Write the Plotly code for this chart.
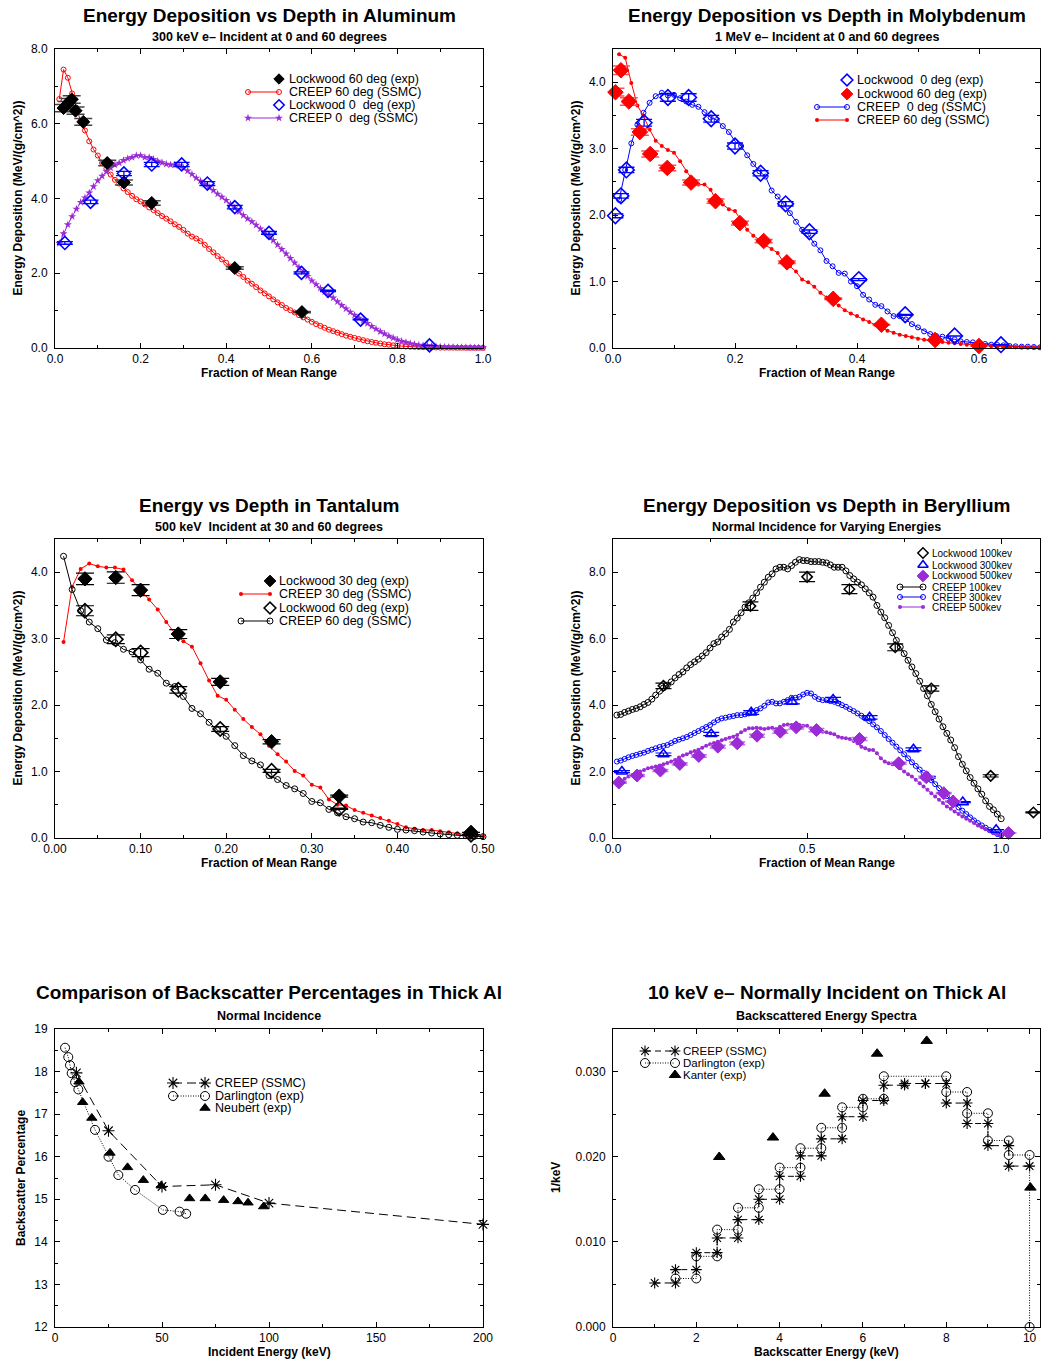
import plotly.graph_objects as go

W, H = 1041, 1359
FONT = "Liberation Sans, Arial, Helvetica, sans-serif"

# ---------------- data ----------------
DEPTH = [0.01, 0.02, 0.03, 0.04, 0.05, 0.06, 0.07, 0.08, 0.09, 0.10,
         0.11, 0.12, 0.13, 0.14, 0.15, 0.16, 0.17, 0.18, 0.19, 0.20,
         0.21, 0.22, 0.23, 0.24, 0.25, 0.26, 0.27, 0.28, 0.29, 0.30,
         0.31, 0.32, 0.33, 0.34, 0.35, 0.36, 0.37, 0.38, 0.39, 0.40,
         0.41, 0.42, 0.43, 0.44, 0.45, 0.46, 0.47, 0.48, 0.49, 0.50,
         0.51, 0.52, 0.53, 0.54, 0.55, 0.56, 0.57, 0.58, 0.59, 0.60,
         0.61, 0.62, 0.63, 0.64, 0.65, 0.66, 0.67, 0.68, 0.69, 0.70,
         0.71, 0.72, 0.73, 0.74, 0.75, 0.76, 0.77, 0.78, 0.79, 0.80,
         0.81, 0.82, 0.83, 0.84, 0.85, 0.86, 0.87, 0.88, 0.89, 0.90,
         0.91, 0.92, 0.93, 0.94, 0.95, 0.96, 0.97, 0.98, 0.99, 1.00]

# Aluminum, 300 keV
AL_CREEP60 = [6.66, 7.45, 7.23, 6.81, 6.42, 6.07, 5.82, 5.53, 5.31, 5.15,
              4.95, 4.80, 4.64, 4.50, 4.40, 4.27, 4.17, 4.07, 3.98, 3.92,
              3.84, 3.76, 3.69, 3.61, 3.53, 3.46, 3.39, 3.31, 3.24, 3.16,
              3.06, 2.98, 2.93, 2.86, 2.76, 2.65, 2.56, 2.46, 2.37, 2.28,
              2.18, 2.09, 1.99, 1.90, 1.80, 1.72, 1.63, 1.54, 1.46, 1.38,
              1.30, 1.22, 1.15, 1.07, 1.01, 0.95, 0.88, 0.82, 0.76, 0.70,
              0.64, 0.59, 0.54, 0.49, 0.45, 0.41, 0.37, 0.33, 0.30, 0.27,
              0.24, 0.21, 0.18, 0.16, 0.14, 0.12, 0.10, 0.09, 0.07, 0.06,
              0.05, 0.04, 0.035, 0.03, 0.025, 0.02, 0.02, 0.015, 0.015, 0.01,
              0.01, 0.01, 0.01, 0.008, 0.008, 0.006, 0.006, 0.005, 0.005, 0.004]
AL_CREEP0 = [2.80, 3.06, 3.30, 3.52, 3.72, 3.90, 4.02, 4.15, 4.32, 4.48,
             4.60, 4.72, 4.82, 4.90, 4.95, 5.02, 5.07, 5.10, 5.15, 5.15,
             5.10, 5.10, 5.05, 5.00, 4.96, 4.92, 4.90, 4.90, 4.88, 4.82,
             4.74, 4.65, 4.55, 4.47, 4.38, 4.30, 4.22, 4.12, 4.04, 3.95,
             3.85, 3.75, 3.65, 3.55, 3.46, 3.38, 3.29, 3.19, 3.10, 3.00,
             2.88, 2.76, 2.64, 2.52, 2.40, 2.28, 2.16, 2.04, 1.92, 1.80,
             1.70, 1.60, 1.50, 1.42, 1.34, 1.24, 1.14, 1.05, 0.96, 0.88,
             0.80, 0.73, 0.66, 0.58, 0.51, 0.44, 0.38, 0.32, 0.27, 0.22,
             0.18, 0.15, 0.12, 0.10, 0.08, 0.07, 0.06, 0.05, 0.04, 0.03,
             0.025, 0.02, 0.02, 0.018, 0.015, 0.015, 0.012, 0.01, 0.01, 0.01]
AL_LW60_X = [0.020, 0.027, 0.033, 0.039, 0.048, 0.066, 0.122, 0.161, 0.226, 0.420, 0.577]
AL_LW60_Y = [6.42, 6.50, 6.58, 6.65, 6.35, 6.05, 4.95, 4.43, 3.88, 2.14, 0.96]
AL_LW0_X = [0.023, 0.083, 0.161, 0.226, 0.296, 0.356, 0.420, 0.500, 0.576, 0.638, 0.714, 0.875]
AL_LW0_Y = [2.81, 3.91, 4.67, 4.91, 4.91, 4.40, 3.77, 3.08, 2.01, 1.53, 0.76, 0.07]

# Molybdenum, 1 MeV
MO_CREEP0 = [2.23, 2.68, 3.08, 3.36, 3.54, 3.69, 3.79, 3.84, 3.80, 3.81,
             3.76, 3.71, 3.66, 3.63, 3.55, 3.47, 3.43, 3.34, 3.25, 3.11,
             3.04, 2.90, 2.77, 2.66, 2.58, 2.37, 2.28, 2.16, 2.03, 1.90,
             1.78, 1.71, 1.57, 1.47, 1.31, 1.23, 1.13, 1.12, 1.00, 0.93,
             0.80, 0.73, 0.65, 0.63, 0.55, 0.48, 0.48, 0.43, 0.36, 0.31,
             0.25, 0.21, 0.18, 0.17, 0.14, 0.13, 0.10, 0.09, 0.085, 0.07,
             0.06, 0.05, 0.045, 0.04, 0.03, 0.025, 0.02, 0.02, 0.015, 0.01]
MO_CREEP60 = [4.42, 4.37, 3.99, 3.65, 3.49, 3.29, 3.12, 3.04, 2.98, 2.94,
              2.81, 2.66, 2.53, 2.46, 2.46, 2.38, 2.21, 2.16, 2.09, 2.06,
              1.91, 1.78, 1.69, 1.63, 1.55, 1.49, 1.43, 1.28, 1.23, 1.15,
              1.03, 0.99, 0.92, 0.83, 0.76, 0.70, 0.64, 0.57, 0.52, 0.48,
              0.43, 0.39, 0.35, 0.30, 0.26, 0.23, 0.20, 0.18, 0.16, 0.14,
              0.125, 0.115, 0.10, 0.09, 0.08, 0.07, 0.06, 0.05, 0.045, 0.04,
              0.035, 0.03, 0.025, 0.02, 0.02, 0.015, 0.015, 0.01, 0.01, 0.01]
MO_LW0_X = [0.004, 0.013, 0.022, 0.051, 0.090, 0.124, 0.161, 0.200, 0.242, 0.283, 0.322, 0.403, 0.479, 0.560, 0.636]
MO_LW0_Y = [1.99, 2.29, 2.68, 3.39, 3.77, 3.77, 3.45, 3.04, 2.63, 2.17, 1.75, 1.03, 0.50, 0.18, 0.05]
MO_LW60_X = [0.004, 0.013, 0.026, 0.044, 0.061, 0.089, 0.128, 0.168, 0.208, 0.247, 0.285, 0.361, 0.440, 0.528, 0.600]
MO_LW60_Y = [3.85, 4.18, 3.71, 3.25, 2.92, 2.71, 2.49, 2.21, 1.88, 1.61, 1.29, 0.74, 0.35, 0.12, 0.03]

# Tantalum, 500 keV
TA_CREEP30 = [2.95, 3.78, 4.05, 4.13, 4.09, 4.07, 4.07, 4.04, 3.88, 3.73,
              3.59, 3.44, 3.25, 3.08, 2.96, 2.88, 2.63, 2.37, 2.14, 2.08,
              1.93, 1.79, 1.67, 1.56, 1.39, 1.26, 1.15, 1.01, 0.94, 0.80,
              0.76, 0.58, 0.50, 0.49, 0.42, 0.38, 0.34, 0.30, 0.26, 0.21,
              0.16, 0.14, 0.12, 0.12, 0.10, 0.085, 0.07, 0.05, 0.04, 0.025]
TA_CREEP60 = [4.24, 3.74, 3.42, 3.25, 3.15, 2.98, 2.94, 2.84, 2.80, 2.68,
              2.54, 2.48, 2.33, 2.28, 2.13, 1.95, 1.87, 1.74, 1.62, 1.53,
              1.39, 1.24, 1.16, 1.10, 0.94, 0.88, 0.79, 0.74, 0.67, 0.55,
              0.53, 0.43, 0.38, 0.32, 0.29, 0.24, 0.23, 0.19, 0.16, 0.13,
              0.12, 0.11, 0.09, 0.075, 0.06, 0.05, 0.04, 0.035, 0.025, 0.02]
TA_LW_X = [0.035, 0.071, 0.100, 0.144, 0.193, 0.253, 0.332, 0.486]
TA_LW30_Y = [3.90, 3.92, 3.73, 3.07, 2.35, 1.45, 0.63, 0.085]
TA_LW60_Y = [3.42, 2.99, 2.79, 2.23, 1.64, 1.01, 0.44, 0.05]

# Beryllium, normal incidence
BE_CREEP100 = [3.70, 3.72, 3.78, 3.82, 3.87, 3.90, 3.95, 4.02, 4.08, 4.18,
               4.30, 4.42, 4.52, 4.60, 4.70, 4.82, 4.92, 5.00, 5.12, 5.22,
               5.30, 5.38, 5.48, 5.58, 5.72, 5.85, 5.90, 6.05, 6.15, 6.28,
               6.50, 6.62, 6.78, 6.95, 7.08, 7.22, 7.38, 7.55, 7.70, 7.85,
               7.95, 8.10, 8.15, 8.15, 8.10, 8.20, 8.30, 8.38, 8.35, 8.35,
               8.32, 8.32, 8.32, 8.30, 8.28, 8.22, 8.15, 8.15, 8.15, 8.04,
               7.90, 7.80, 7.70, 7.62, 7.50, 7.38, 7.25, 7.00, 6.80, 6.63,
               6.40, 6.18, 5.95, 5.75, 5.55, 5.35, 5.15, 4.95, 4.72, 4.50,
               4.28, 4.02, 3.80, 3.58, 3.35, 3.15, 2.95, 2.72, 2.45, 2.22,
               2.02, 1.82, 1.65, 1.48, 1.32, 1.12, 0.95, 0.85, 0.72, 0.58]
BE_CREEP300 = [2.30, 2.33, 2.38, 2.43, 2.47, 2.50, 2.54, 2.57, 2.62, 2.66,
               2.70, 2.74, 2.77, 2.80, 2.86, 2.92, 2.96, 3.00, 3.04, 3.10,
               3.16, 3.22, 3.28, 3.34, 3.40, 3.48, 3.55, 3.60, 3.62, 3.65,
               3.67, 3.70, 3.70, 3.72, 3.75, 3.80, 3.85, 3.90, 3.98, 4.08,
               4.10, 4.05, 4.05, 4.10, 4.15, 4.22, 4.22, 4.25, 4.32, 4.37,
               4.35, 4.25, 4.18, 4.15, 4.15, 4.12, 4.10, 4.05, 4.00, 3.95,
               3.88, 3.82, 3.75, 3.68, 3.60, 3.52, 3.42, 3.33, 3.22, 3.10,
               2.98, 2.87, 2.75, 2.64, 2.52, 2.40, 2.28, 2.17, 2.06, 1.96,
               1.86, 1.74, 1.62, 1.50, 1.38, 1.26, 1.14, 1.03, 0.92, 0.82,
               0.72, 0.62, 0.53, 0.45, 0.38, 0.31, 0.24, 0.18, 0.12, 0.08]
BE_CREEP500 = [1.65, 1.70, 1.78, 1.85, 1.90, 1.95, 2.00, 2.05, 2.10, 2.12,
               2.15, 2.18, 2.22, 2.26, 2.30, 2.35, 2.42, 2.48, 2.52, 2.58,
               2.62, 2.66, 2.72, 2.78, 2.82, 2.86, 2.90, 2.94, 2.98, 3.02,
               3.05, 3.10, 3.18, 3.25, 3.30, 3.30, 3.32, 3.30, 3.28, 3.30,
               3.32, 3.28, 3.35, 3.40, 3.42, 3.40, 3.38, 3.40, 3.38, 3.38,
               3.30, 3.25, 3.22, 3.20, 3.18, 3.15, 3.12, 3.05, 3.02, 3.00,
               2.98, 2.92, 2.85, 2.75, 2.70, 2.65, 2.65, 2.55, 2.40, 2.30,
               2.25, 2.22, 2.20, 2.10, 2.00, 1.92, 1.85, 1.75, 1.65, 1.55,
               1.45, 1.35, 1.25, 1.15, 1.05, 0.95, 0.88, 0.80, 0.72, 0.65,
               0.58, 0.52, 0.45, 0.38, 0.32, 0.26, 0.20, 0.15, 0.12, 0.08]
BE_LW100_X = [0.130, 0.354, 0.500, 0.609, 0.727, 0.820, 0.973, 1.083]
BE_LW100_Y = [4.58, 6.98, 7.86, 7.49, 5.74, 4.50, 1.87, 0.77]
BE_LW300_X = [0.023, 0.130, 0.253, 0.356, 0.461, 0.567, 0.661, 0.774, 0.811, 0.901, 0.987]
BE_LW300_Y = [2.00, 2.52, 3.13, 3.78, 4.10, 4.17, 3.63, 2.67, 1.83, 1.08, 0.25]
BE_LW500_X = [0.015, 0.062, 0.122, 0.172, 0.221, 0.270, 0.320, 0.371, 0.431, 0.472,
              0.524, 0.635, 0.736, 0.807, 0.852, 0.876, 1.019]
BE_LW500_Y = [1.67, 1.88, 2.03, 2.23, 2.47, 2.75, 2.85, 3.08, 3.20, 3.33,
              3.25, 2.98, 2.25, 1.83, 1.35, 1.10, 0.15]

# Backscatter percentages, thick Al
BS_CREEP_E = [10, 25, 50, 75, 100, 200]
BS_CREEP = [17.97, 16.61, 15.30, 15.34, 14.91, 14.41]
BS_DARL_E = [4.7, 6.2, 7.0, 7.8, 9.4, 10.9, 18.7, 25.0, 29.6, 37.4, 50.4, 58.2, 61.3]
BS_DARL = [18.56, 18.34, 18.15, 17.96, 17.75, 17.58, 16.63, 16.00, 15.57, 15.22, 14.75, 14.71, 14.66]
BS_NEUB_E = [11.2, 12.9, 17.2, 25.7, 33.9, 41.3, 49.6, 62.9, 70.2, 78.8, 85.5, 90.2, 97.5]
BS_NEUB = [17.76, 17.28, 16.91, 16.09, 15.75, 15.45, 15.32, 15.02, 15.02, 14.98, 14.95, 14.92, 14.83]

# 10 keV backscattered energy spectra (histogram bins)
SP_CREEP_LO = [1.0, 1.5, 2.0, 2.5, 3.0, 3.5, 4.0, 4.5, 5.0, 5.5, 6.0, 6.5, 7.0, 7.5, 8.0, 8.5, 9.0, 9.5]
SP_CREEP_HI = [1.5, 2.0, 2.5, 3.0, 3.5, 4.0, 4.5, 5.0, 5.5, 6.0, 6.5, 7.0, 7.5, 8.0, 8.5, 9.0, 9.5, 10.0]
SP_CREEP = [0.00517, 0.00674, 0.00873, 0.01046, 0.01261, 0.0150, 0.0177, 0.0201, 0.0221,
            0.0247, 0.0266, 0.0284, 0.0286, 0.0286, 0.0263, 0.0239, 0.0213, 0.0189]
SP_DARL_LO = [1.5, 2.0, 2.5, 3.0, 3.5, 4.0, 4.5, 5.0, 5.5, 6.0, 6.5, 8.0, 8.5, 9.0, 9.5]
SP_DARL_HI = [2.0, 2.5, 3.0, 3.5, 4.0, 4.5, 5.0, 5.5, 6.0, 6.5, 8.0, 8.5, 9.0, 9.5, 10.0]
SP_DARL = [0.0057, 0.0083, 0.01144, 0.0140, 0.01618, 0.01872, 0.0210, 0.0234, 0.0258,
           0.0268, 0.02945, 0.0276, 0.0251, 0.0219, 0.0202]
SP_DARL_END_E = [10.0]
SP_DARL_END = [0.0]
SP_KANT_E = [2.55, 3.84, 5.08, 6.34, 7.53, 10.02]
SP_KANT = [0.01997, 0.02225, 0.0274, 0.0321, 0.0336, 0.01637]

# ---------------- styles ----------------
RED = "#FF0000"
BLUE = "#0000FF"
PURPLE = "#9A2BD6"
BLACK = "#000000"

# panel boxes in pixels: left, right, top, bottom
BOXES = [(55, 483, 49, 348), (613, 1040, 49, 348),
         (55, 483, 539, 838), (613, 1040, 539, 838),
         (55, 483, 1029, 1327), (613, 1040, 1029, 1327)]

AXSPEC = [
    dict(xr=[0, 1.0], yr=[0, 8.0], xd=0.2, xm=0.1, yd=2.0, ym=1.0, xf=".1f", yf=".1f"),
    dict(xr=[0, 0.7], yr=[0, 4.5], xd=0.2, xm=0.1, yd=1.0, ym=0.5, xf=".1f", yf=".1f"),
    dict(xr=[0, 0.5], yr=[0, 4.5], xd=0.1, xm=0.05, yd=1.0, ym=0.5, xf=".2f", yf=".1f"),
    dict(xr=[0, 1.1], yr=[0, 9.0], xd=0.5, xm=0.25, yd=2.0, ym=1.0, xf=".1f", yf=".1f"),
    dict(xr=[0, 200], yr=[12, 19], xd=50, xm=25, yd=1, ym=0.5, xf="d", yf="d"),
    dict(xr=[0, 10.25], yr=[0, 0.035], xd=2, xm=1, yd=0.01, ym=0.005, xf="d", yf=".3f"),
]

TITLES = ["Energy Deposition vs Depth in Aluminum", "Energy Deposition vs Depth in Molybdenum",
          "Energy vs Depth in Tantalum", "Energy Deposition vs Depth in Beryllium",
          "Comparison of Backscatter Percentages in Thick Al", "10 keV e\u2013 Normally Incident on Thick Al"]
SUBTITLES = ["300 keV e\u2013 Incident at 0 and 60 degrees", "1 MeV e\u2013 Incident at 0 and 60 degrees",
             "500 keV  Incident at 30 and 60 degrees", "Normal Incidence for Varying Energies",
             "Normal Incidence", "Backscattered Energy Spectra"]
XTITLES = ["Fraction of Mean Range"] * 4 + ["Incident Energy (keV)", "Backscatter Energy (keV)"]
YTITLES = ["Energy Deposition (MeV/(g/cm^2))"] * 4 + ["Backscatter Percentage", "1/keV"]

fig = go.Figure()


def ax_ids(i):
    return ("x", "y") if i == 1 else (f"x{i}", f"y{i}")


def add(i, x, y, mode, marker=None, line=None, error_y=None):
    xa, ya = ax_ids(i)
    fig.add_trace(go.Scatter(x=x, y=y, mode=mode, xaxis=xa, yaxis=ya, marker=marker,
                             line=line, error_y=error_y, showlegend=False,
                             cliponaxis=False, hoverinfo="skip"))


def mk(symbol, size, color, lw=1.0):
    return dict(symbol=symbol, size=size, color=color, line=dict(color=color, width=lw))


def eb(pct, color, width, thick=1.2):
    return dict(type="percent", value=pct, color=color, width=width, thickness=thick)


# marker definitions (shared by data and legends)
M_AL_LW60 = mk("diamond", 10, BLACK)
M_AL_C60 = mk("circle-open", 5, RED, 1)
M_AL_LW0 = mk("diamond-open", 10, BLUE, 1.6)
M_AL_C0 = mk("star", 6, PURPLE, 0)
M_MO_LW0 = mk("diamond-open", 12, BLUE, 1.6)
M_MO_LW60 = mk("diamond", 12, RED)
M_MO_C0 = mk("circle-open", 5, BLUE, 1)
M_MO_C60 = mk("circle", 4, RED, 0)
M_TA_LW30 = mk("diamond", 11, BLACK)
M_TA_C30 = mk("circle", 4, RED, 0)
M_TA_LW60 = mk("diamond-open", 11, BLACK, 1.6)
M_TA_C60 = mk("circle-open", 6, BLACK, 1)
M_BE_LW100 = mk("diamond-open", 8, BLACK, 1.5)
M_BE_LW300 = mk("triangle-up-open", 10, BLUE, 1.6)
M_BE_LW500 = mk("diamond", 10, PURPLE)
M_BE_C100 = mk("circle-open", 6, BLACK, 1)
M_BE_C300 = mk("circle-open", 5, BLUE, 1)
M_BE_C500 = mk("circle", 4, PURPLE, 0)
M_BS_C = mk("asterisk-open", 10, BLACK, 1.1)
M_BS_D = mk("circle-open", 9, BLACK, 1)
M_BS_N = mk("triangle-up", 9, BLACK)
M_SP_C = mk("asterisk-open", 9, BLACK, 1.1)
M_SP_D = mk("circle-open", 9, BLACK, 1)
M_SP_K = mk("triangle-up", 10, BLACK)

L_RED = dict(color=RED, width=1)
L_BLUE = dict(color=BLUE, width=1)
L_PURPLE = dict(color=PURPLE, width=1)
L_BLACK = dict(color=BLACK, width=1)
L_DASH5 = dict(color=BLACK, width=1, dash="9px,5px")
L_DASH6 = dict(color=BLACK, width=1, dash="6px,4px")
L_DOT = dict(color=BLACK, width=1, dash="1px,1.5px")

# ---- panel 1: Aluminum
add(1, DEPTH, AL_CREEP60, "lines+markers", M_AL_C60, L_RED)
add(1, DEPTH, AL_CREEP0, "lines+markers", M_AL_C0, L_PURPLE)
add(1, AL_LW60_X, AL_LW60_Y, "markers", M_AL_LW60, error_y=eb(1.5, "#444444", 9, 1.5))
add(1, AL_LW0_X, AL_LW0_Y, "markers", M_AL_LW0, error_y=eb(1.2, BLUE, 8, 1.3))

# ---- panel 2: Molybdenum
add(2, DEPTH[:70], MO_CREEP0, "lines+markers", M_MO_C0, L_BLUE)
add(2, DEPTH[:70], MO_CREEP60, "lines+markers", M_MO_C60, L_RED)
add(2, MO_LW0_X, MO_LW0_Y, "markers", M_MO_LW0, error_y=eb(1.5, BLUE, 8, 1.3))
add(2, MO_LW60_X, MO_LW60_Y, "markers", M_MO_LW60, error_y=eb(1.5, "#FF5050", 9, 1.5))

# ---- panel 3: Tantalum
add(3, DEPTH[:50], TA_CREEP30, "lines+markers", M_TA_C30, L_RED)
add(3, DEPTH[:50], TA_CREEP60, "lines+markers", M_TA_C60, L_BLACK)
add(3, TA_LW_X, TA_LW30_Y, "markers", M_TA_LW30, error_y=eb(2.2, BLACK, 9, 1.2))
add(3, TA_LW_X, TA_LW60_Y, "markers", M_TA_LW60, error_y=eb(2.2, BLACK, 9, 1.2))

# ---- panel 4: Beryllium
add(4, DEPTH, BE_CREEP100, "lines+markers", M_BE_C100, L_BLACK)
add(4, DEPTH, BE_CREEP300, "lines+markers", M_BE_C300, L_BLUE)
add(4, DEPTH, BE_CREEP500, "lines+markers", M_BE_C500, L_PURPLE)
add(4, BE_LW100_X, BE_LW100_Y, "markers", M_BE_LW100, error_y=eb(1.8, BLACK, 8, 1.2))
add(4, BE_LW300_X, BE_LW300_Y, "markers", M_BE_LW300, error_y=eb(1.5, BLUE, 8, 1.2))
add(4, BE_LW500_X, BE_LW500_Y, "markers", M_BE_LW500, error_y=eb(1.5, "#C070E8", 8, 1.5))

# ---- panel 5: backscatter percentages
add(5, BS_DARL_E, BS_DARL, "lines+markers", M_BS_D, L_DOT)
add(5, BS_CREEP_E, BS_CREEP, "lines+markers", M_BS_C, L_DASH5)
add(5, BS_NEUB_E, BS_NEUB, "markers", M_BS_N)


# ---- panel 6: spectra (histogram steps built from bin edges)
def steps(lo, hi, v):
    xs, ys = [], []
    for a, b, c in zip(lo, hi, v):
        xs += [a, b]
        ys += [c, c]
    return xs, ys


dx, dy = steps(SP_DARL_LO, SP_DARL_HI, SP_DARL)
add(6, dx + SP_DARL_END_E, dy + SP_DARL_END, "lines+markers", M_SP_D, L_DOT)
cx, cy = steps(SP_CREEP_LO, SP_CREEP_HI, SP_CREEP)
add(6, cx, cy, "lines+markers", M_SP_C, L_DASH6)
add(6, SP_KANT_E, SP_KANT, "markers", M_SP_K)

# ---------------- axes ----------------
layout = dict(width=W, height=H, margin=dict(l=0, r=0, t=0, b=0, pad=0, autoexpand=False),
              autosize=False, template="none",
              paper_bgcolor="white", plot_bgcolor="rgba(0,0,0,0)",
              font=dict(family=FONT, size=12, color="black"), showlegend=False)

for i, (box, s) in enumerate(zip(BOXES, AXSPEC), start=1):
    l, r, t, b = box
    xa, ya = ax_ids(i)
    common = dict(showline=True, linecolor="black", linewidth=1, mirror="ticks",
                  ticks="inside", ticklen=5, tickwidth=1, tickcolor="black",
                  showgrid=False, zeroline=False, tickfont=dict(size=12, family=FONT, color="black"),
                  fixedrange=True, automargin=False)
    layout["xaxis" if i == 1 else f"xaxis{i}"] = dict(
        common, domain=[l / W, r / W], range=s["xr"], anchor=ya, tick0=0, dtick=s["xd"],
        tickformat=s["xf"], ticklabelstandoff=0,
        minor=dict(dtick=s["xm"], ticks="inside", ticklen=3, tickcolor="black", showgrid=False))
    layout["yaxis" if i == 1 else f"yaxis{i}"] = dict(
        common, domain=[1 - b / H, 1 - t / H], range=s["yr"], anchor=xa, tick0=s["yr"][0],
        dtick=s["yd"], tickformat=s["yf"], ticklabelstandoff=4,
        minor=dict(dtick=s["ym"], ticks="inside", ticklen=3, tickcolor="black", showgrid=False))

# overlay pixel axis for legend glyphs
layout["xaxis7"] = dict(domain=[0, 1], range=[0, W], visible=False, fixedrange=True,
                        anchor="y7", automargin=False)
layout["yaxis7"] = dict(domain=[0, 1], range=[H, 0], visible=False, fixedrange=True,
                        anchor="x7", automargin=False)

ann = []


def text(px, py, s, size, bold=False, anchor="center", angle=0):
    ann.append(dict(x=px / W, y=1 - py / H, xref="paper", yref="paper", showarrow=False,
                    text=f"<b>{s}</b>" if bold else s, textangle=angle,
                    xanchor=anchor, yanchor="middle", font=dict(size=size, family=FONT, color="black")))


TITLE_Y = [15, 15, 505, 505, 993, 993]
SUB_Y = [37, 37, 527, 527, 1016, 1016]
XT_Y = [372.5, 372.5, 862.5, 862.5, 1352, 1352]
YT_X = [17, 575, 17, 575, 21, 556]
for i, (l, r, t, b) in enumerate(BOXES):
    cx_ = (l + r) / 2
    text(cx_, TITLE_Y[i], TITLES[i], 19, True)
    text(cx_, SUB_Y[i], SUBTITLES[i], 12.5, True)
    text(cx_, XT_Y[i], XTITLES[i], 12, True)
    text(YT_X[i], (t + b) / 2, YTITLES[i], 12, True, angle=-90)

# ---------------- legends ----------------
LEGENDS = [
    dict(tx=287, rows=[79, 92, 105, 118], off=8, ln=31, fs=12.5, items=[
        ("Lockwood 60 deg (exp)", "m", M_AL_LW60, None, 8),
        ("CREEP 60 deg (SSMC)", "l", M_AL_C60, L_RED, 5),
        ("Lockwood 0  deg (exp)", "m", M_AL_LW0, None, 8),
        ("CREEP 0  deg (SSMC)", "l", M_AL_C0, L_PURPLE, 6)]),
    dict(tx=855, rows=[80, 94, 107, 120], off=8, ln=30, fs=12.5, items=[
        ("Lockwood  0 deg (exp)", "m", M_MO_LW0, None, 9),
        ("Lockwood 60 deg (exp)", "m", M_MO_LW60, None, 9),
        ("CREEP  0 deg (SSMC)", "l", M_MO_C0, L_BLUE, 5),
        ("CREEP 60 deg (SSMC)", "l", M_MO_C60, L_RED, 4)]),
    dict(tx=277, rows=[581, 594, 608, 621], off=7, ln=29, fs=12.5, items=[
        ("Lockwood 30 deg (exp)", "m", M_TA_LW30, None, 9),
        ("CREEP 30 deg (SSMC)", "l", M_TA_C30, L_RED, 4),
        ("Lockwood 60 deg (exp)", "m", M_TA_LW60, None, 9),
        ("CREEP 60 deg (SSMC)", "l", M_TA_C60, L_BLACK, 6)]),
    dict(tx=930, rows=[553, 565, 576, 587, 597, 607], off=7, ln=23, fs=10, items=[
        ("Lockwood 100kev", "m", M_BE_LW100, None, 8),
        ("Lockwood 300kev", "m", M_BE_LW300, None, 9),
        ("Lockwood 500kev", "m", M_BE_LW500, None, 9),
        ("CREEP 100kev", "l", M_BE_C100, L_BLACK, 6),
        ("CREEP 300kev", "l", M_BE_C300, L_BLUE, 5),
        ("CREEP 500kev", "l", M_BE_C500, L_PURPLE, 4)]),
    dict(tx=213, rows=[1083, 1096, 1108], off=8, ln=32, fs=12.5, items=[
        ("CREEP (SSMC)", "l", M_BS_C, L_DASH5, 10),
        ("Darlington (exp)", "l", M_BS_D, L_DOT, 9),
        ("Neubert (exp)", "m", M_BS_N, None, 9)]),
    dict(tx=681, rows=[1051, 1063, 1075], off=6, ln=30, fs=11.5, items=[
        ("CREEP (SSMC)", "l", M_SP_C, L_DASH6, 9),
        ("Darlington (exp)", "l", M_SP_D, L_DOT, 9),
        ("Kanter (exp)", "m", M_SP_K, None, 10)]),
]

for lg in LEGENDS:
    for row, (label, kind, m, ln, sz) in zip(lg["rows"], lg["items"]):
        xr_ = lg["tx"] - lg["off"]
        mm = dict(m, size=sz)
        if kind == "m":
            gx, gy, mode = [xr_], [row], "markers"
        else:
            gx, gy, mode = [xr_ - lg["ln"], xr_], [row, row], "lines+markers"
        fig.add_trace(go.Scatter(x=gx, y=gy, mode=mode, marker=mm, line=ln, xaxis="x7", yaxis="y7",
                                 showlegend=False, cliponaxis=False, hoverinfo="skip"))
        text(lg["tx"], row, label, lg["fs"], anchor="left")

layout["annotations"] = ann
fig.update_layout(**layout)

fig.write_html("out.html", config={"displayModeBar": False, "responsive": False})
with open("out.html", "r", encoding="utf-8") as f:
    html = f.read()
html = html.replace("<body>", '<body style="margin:0;padding:0;">', 1)
with open("out.html", "w", encoding="utf-8") as f:
    f.write(html)
